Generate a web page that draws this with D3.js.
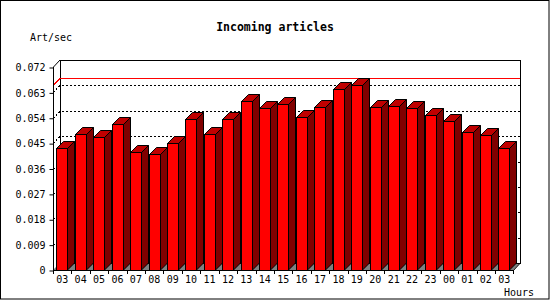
<!DOCTYPE html>
<html>
<head>
<meta charset="utf-8">
<script src="https://cdn.jsdelivr.net/npm/d3@7"></script>
<style>
  body { margin: 0; background: #fff; }
  svg { display: block; }
  text { font-family: "DejaVu Sans Mono", monospace; fill: #000; }
</style>
</head>
<body>
<svg id="drawing_region"></svg>
<script>
const hours = [ "03", "04", "05", "06", "07", "08", "09", "10", "11", "12", "13", "14", "15",
                "16", "17", "18", "19", "20", "21", "22", "23", "00", "01", "02", "03" ];
const articles = [ 0.0434, 0.0481, 0.0471, 0.0517, 0.0420, 0.0410, 0.0452, 0.0534, 0.0481,
                   0.0534, 0.0598, 0.0574, 0.0588, 0.0542, 0.0577, 0.0641, 0.0655, 0.0577,
                   0.0581, 0.0574, 0.0549, 0.0527, 0.0488, 0.0478, 0.0434 ];
const y_ticks = [ 0, 0.009, 0.018, 0.027, 0.036, 0.045, 0.054, 0.063, 0.072 ];

const data = hours.map( ( h, i ) => ({ index: i, label: h, value: articles[i] }) );

const config = {
    width: 550,
    height: 300,
    left: 53,
    right: 513.4,
    top: 67,
    bottom: 270,
    depth: 7
};

const svg = d3.select( '#drawing_region' )
    .attr( 'width', config.width )
    .attr( 'height', config.height );

const dp = config.depth;

const xscale = d3.scaleBand()
    .domain( data.map( d => d.index ) )
    .range( [ config.left, config.right ] );

const yscale = d3.scaleLinear()
    .domain( [ 0, y_ticks[ y_ticks.length - 1 ] ] )
    .range( [ config.bottom, config.top ] );

// frame
svg.append( 'rect' )
    .attr( 'x', 0.5 ).attr( 'y', 0.5 )
    .attr( 'width', 548.5 ).attr( 'height', 298.5 )
    .attr( 'fill', '#fff' ).attr( 'stroke', '#000' );

const x0 = config.left, x1 = config.right;
const y0 = yscale( 0 ), yt = yscale( y_ticks[ y_ticks.length - 1 ] );

// floor
svg.append( 'path' )
    .attr( 'd', `M${x0},${y0}L${x0 + dp},${y0 - dp}L${x1 + dp},${y0 - dp}L${x1},${y0}Z` )
    .attr( 'fill', '#808080' );

// back wall
svg.append( 'rect' )
    .attr( 'x', x0 + dp + 0.5 ).attr( 'y', yt - dp + 0.5 )
    .attr( 'width', x1 - x0 ).attr( 'height', y0 - yt )
    .attr( 'fill', 'none' ).attr( 'stroke', '#000' )
    .attr( 'shape-rendering', 'crispEdges' );

// dotted grid on the left wall and back wall
const grid = svg.append( 'g' );
y_ticks.slice( 1, -1 ).forEach( t => {
    const y = Math.round( yscale( t ) ) + 0.5;
    grid.append( 'path' )
        .attr( 'd', `M${x0},${y}L${x0 + dp},${y - dp}L${x1 + dp},${y - dp}` )
        .attr( 'fill', 'none' )
        .attr( 'stroke', '#000' )
        .attr( 'stroke-dasharray', '2,2' )
        .attr( 'shape-rendering', 'crispEdges' );
} );

// max line
const ymax = Math.round( yscale( d3.max( articles ) ) ) + 0.5;
svg.append( 'path' )
    .attr( 'd', `M${x0},${ymax}L${x0 + dp},${ymax - dp}L${x1 + dp},${ymax - dp}` )
    .attr( 'fill', 'none' )
    .attr( 'stroke', '#ff0000' )
    .attr( 'shape-rendering', 'crispEdges' );

// bars
const pad = 3.5, bw = 11;
const bars = svg.append( 'g' )
    .selectAll( 'g' )
    .data( data )
    .join( 'g' );

bars.append( 'path' )  // side
    .attr( 'd', d => {
        const xa = Math.round( xscale( d.index ) + pad + bw ) + 0.5, yv = Math.round( yscale( d.value ) ) + 0.5;
        return `M${xa},${y0}L${xa + dp},${y0 - dp}L${xa + dp},${yv - dp}L${xa},${yv}Z`;
    } )
    .attr( 'fill', '#800000' ).attr( 'stroke', '#000' );

bars.append( 'path' )  // top
    .attr( 'd', d => {
        const xa = Math.round( xscale( d.index ) + pad ) + 0.5, xb = Math.round( xscale( d.index ) + pad + bw ) + 0.5;
        const yv = Math.round( yscale( d.value ) ) + 0.5;
        return `M${xa},${yv}L${xa + dp},${yv - dp}L${xb + dp},${yv - dp}L${xb},${yv}Z`;
    } )
    .attr( 'fill', '#c00000' ).attr( 'stroke', '#000' );

bars.append( 'rect' )  // front
    .attr( 'x', d => Math.round( xscale( d.index ) + pad ) + 0.5 )
    .attr( 'y', d => Math.round( yscale( d.value ) ) + 0.5 )
    .attr( 'width', d => Math.round( xscale( d.index ) + pad + bw ) - Math.round( xscale( d.index ) + pad ) )
    .attr( 'height', d => y0 - Math.round( yscale( d.value ) ) )
    .attr( 'fill', '#ff0000' ).attr( 'stroke', '#000' )
    .attr( 'shape-rendering', 'crispEdges' );

// front edges
svg.append( 'path' )
    .attr( 'd', `M${x0 + dp},${yt - dp}L${x0 + 0.5},${yt}L${x0 + 0.5},${y0 + 0.5}L${x1},${y0 + 0.5}L${x1 + dp},${y0 - dp}` )
    .attr( 'fill', 'none' ).attr( 'stroke', '#000' );

// y axis
const yaxis = d3.axisLeft( yscale )
    .tickValues( y_ticks )
    .tickSize( 4 )
    .tickPadding( 4 )
    .tickFormat( d => d === 0 ? '0' : d3.format( '.3f' )( d ) );

svg.append( 'g' )
    .attr( 'transform', `translate(${x0 + 0.5}, 0.5)` )
    .call( yaxis )
    .call( g => g.select( '.domain' ).remove() )
    .call( g => g.selectAll( 'text' ).attr( 'font-size', 10 ).attr( 'font-family', '"DejaVu Sans Mono", monospace' ) );

// x axis
const xaxis = d3.axisBottom( xscale )
    .tickSize( 0 )
    .tickPadding( 6 )
    .tickFormat( i => hours[i] );

svg.append( 'g' )
    .attr( 'transform', `translate(0, ${y0})` )
    .call( xaxis )
    .call( g => g.select( '.domain' ).remove() )
    .call( g => g.selectAll( 'text' ).attr( 'font-size', 10 ).attr( 'font-family', '"DejaVu Sans Mono", monospace' ) );

svg.append( 'g' )
    .selectAll( 'line' )
    .data( data.map( d => xscale( d.index ) ).concat( [ x1 ] ) )
    .join( 'line' )
    .attr( 'x1', d => Math.round( d ) + 0.5 ).attr( 'x2', d => Math.round( d ) + 0.5 )
    .attr( 'y1', y0 ).attr( 'y2', y0 + 4 )
    .attr( 'stroke', '#000' )
    .attr( 'shape-rendering', 'crispEdges' );

// texts
svg.append( 'text' )
    .attr( 'x', 275 ).attr( 'y', 31 )
    .attr( 'text-anchor', 'middle' )
    .attr( 'font-size', 11.5 ).attr( 'font-weight', 'bold' )
    .text( 'Incoming articles' );

svg.append( 'text' )
    .attr( 'x', 30 ).attr( 'y', 41 )
    .attr( 'font-size', 10 )
    .text( 'Art/sec' );

svg.append( 'text' )
    .attr( 'x', 504 ).attr( 'y', 296 )
    .attr( 'font-size', 10 )
    .text( 'Hours' );
</script>
</body>
</html>
